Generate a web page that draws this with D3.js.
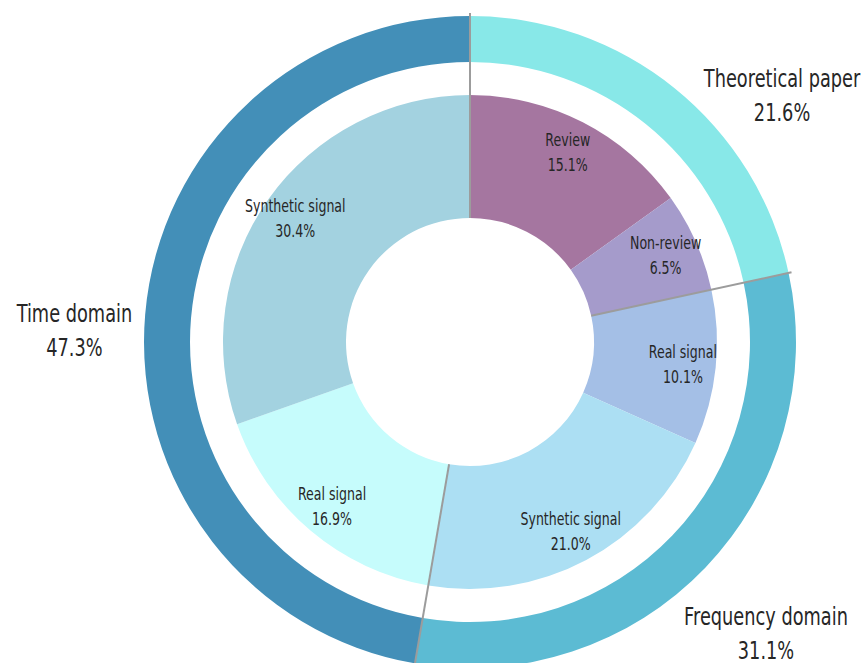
<!DOCTYPE html>
<html>
<head>
<meta charset="utf-8">
<script src="https://cdn.jsdelivr.net/npm/d3@7"></script>
<style>
  body { margin: 0; background: #fff; }
  text { font-family: "DejaVu Sans", sans-serif; fill: #262626; }
</style>
</head>
<body>
<svg id="chart" width="862" height="663"></svg>
<script>
// outer ring: paper type
const groups = ['Theoretical paper', 'Frequency domain', 'Time domain'];
const groupValues = [21.6, 31.1, 47.3];
const groupColors = ['#88e8e8', '#5cbbd3', '#438fb8'];

// inner ring: sub categories, same order clockwise from 12 o'clock
const subs = ['Review', 'Non-review', 'Real signal', 'Synthetic signal', 'Real signal', 'Synthetic signal'];
const subValues = [15.1, 6.5, 10.1, 21.0, 16.9, 30.4];
const subColors = ['#a576a0', '#a59bcb', '#a4bfe6', '#acdff3', '#c6fcfc', '#a3d2e0'];

const svg = d3.select('#chart');
const cx = 470, cy = 342;
const g = svg.append('g').attr('transform', `translate(${cx},${cy})`);

const pie = d3.pie().sort(null).value(d => d.value);
const fmt = d => d.toFixed(1) + '%';
// the original font is a condensed face, squeeze DejaVu horizontally
const squeeze = 0.74;

const outerData = pie(groups.map((name, i) => ({name, value: groupValues[i], color: groupColors[i]})));
const innerData = pie(subs.map((name, i) => ({name, value: subValues[i], color: subColors[i]})));

const outerArc = d3.arc().innerRadius(280).outerRadius(326);
const innerArc = d3.arc().innerRadius(124).outerRadius(247);

g.selectAll('.outer')
    .data(outerData)
    .enter()
    .append('path')
    .attr('class', 'outer')
    .attr('d', outerArc)
    .attr('fill', d => d.data.color);

g.selectAll('.inner')
    .data(innerData)
    .enter()
    .append('path')
    .attr('class', 'inner')
    .attr('d', innerArc)
    .attr('fill', d => d.data.color);

// gray dividers between the main groups
g.selectAll('.divider')
    .data(outerData)
    .enter()
    .append('line')
    .attr('class', 'divider')
    .attr('x1', d => 124 * Math.sin(d.startAngle))
    .attr('y1', d => -124 * Math.cos(d.startAngle))
    .attr('x2', d => 329 * Math.sin(d.startAngle))
    .attr('y2', d => -329 * Math.cos(d.startAngle))
    .attr('stroke', '#9c9c9c')
    .attr('stroke-width', 2);

// inner labels
const innerLabelArc = d3.arc().innerRadius(214).outerRadius(214);
const innerLabels = g.selectAll('.innerLabel')
    .data(innerData)
    .enter()
    .append('text')
    .attr('class', 'innerLabel')
    .attr('text-anchor', 'middle')
    .attr('font-size', 17)
    .attr('transform', d => `translate(${innerLabelArc.centroid(d)}) scale(${squeeze},1)`);

innerLabels.append('tspan')
    .attr('x', 0).attr('y', -6)
    .text(d => d.data.name);
innerLabels.append('tspan')
    .attr('x', 0).attr('y', 19)
    .text(d => fmt(d.data.value));

// outer labels, nudged off the centroid like the original layout
const outerLabelArc = d3.arc().innerRadius(400).outerRadius(400);
const nudge = {'Theoretical paper': [61, 64], 'Frequency domain': [7, 14], 'Time domain': [3, 22]};
const outerLabels = g.selectAll('.outerLabel')
    .data(outerData)
    .enter()
    .append('text')
    .attr('class', 'outerLabel')
    .attr('text-anchor', 'middle')
    .attr('font-size', 24)
    .attr('transform', d => {
        const [x, y] = outerLabelArc.centroid(d);
        const [nx, ny] = nudge[d.data.name];
        return `translate(${x + nx},${y + ny}) scale(${squeeze},1)`;
    });

outerLabels.append('tspan')
    .attr('x', 0).attr('y', -8)
    .text(d => d.data.name);
outerLabels.append('tspan')
    .attr('x', 0).attr('y', 26)
    .text(d => fmt(d.data.value));
</script>
</body>
</html>
